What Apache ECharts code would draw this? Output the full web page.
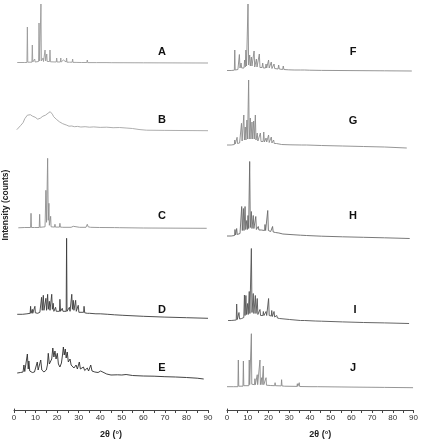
<!DOCTYPE html>
<html>
<head>
<meta charset="utf-8">
<script src="https://cdn.jsdelivr.net/npm/echarts@6/dist/echarts.min.js"></script>
<style>
  html, body { margin: 0; padding: 0; background: #fff; }
  #main { width: 421px; height: 440px; }
</style>
</head>
<body>
<div id="main"></div>
<script>
// XRD patterns, [2theta, intensity] (arbitrary counts)
var patternA = [
  [1.5,0.5],[5,0.5],[6.0,0.5],[6.2,36],[6.4,0.8],[8.3,0.8],[8.5,18],[8.7,1],[9.4,1],[9.6,4],[9.8,1],
  [11.4,1.5],[11.6,40],[11.9,2],[12.3,2],[12.5,59],[12.7,2],[13.3,1.5],[13.5,5],[13.7,1.5],[14.2,2],[14.4,13],[14.7,2],
  [15.0,2],[15.2,9],[15.4,1.5],[16.5,1.5],[16.7,13],[16.9,1.2],[17.3,1.2],[17.5,3],[17.7,1],[19.6,1],[19.8,5],[20,1],
  [21.5,1],[21.7,5],[21.9,1],[22.7,1],[22.9,3],[23.1,1],[24.2,1],[24.4,5],[24.6,0.8],[25.3,0.8],[25.5,2],[25.7,0.8],
  [27,0.8],[27.2,4],[27.4,0.6],[28.8,0.6],[29,1.2],[29.2,0.5],[31.2,0.5],[31.4,2],[31.6,0.5],[33.8,0.5],[34,3],[34.2,0.4],
  [38.2,0.4],[38.4,2],[38.6,0.4],[42.7,0.4],[42.9,1.5],[43.1,0.3],[45.1,0.3],[45.3,1],[45.5,0.3],[60,0.2],[90,0]
];
var patternB = [
  [1.3,1],[2.2,3],[3,5],[3.6,4.5],[4.2,8],[5,12],[5.6,14],[6.2,15.5],[6.6,17],[7.1,15.5],[7.6,16],[8,15],[8.6,14.5],
  [9.2,13],[9.8,13.5],[10.4,12],[11,11.5],[11.6,11],[12.2,12.5],[12.8,13],[13.4,14.5],[14,14],[14.6,15.5],[15.2,17],
  [15.8,17.5],[16.3,19.5],[16.8,19],[17.3,17],[17.8,16.5],[18.4,14],[19,13],[19.6,11.5],[20.3,10],[21,9],[21.8,7.5],
  [22.6,7],[23.5,5.5],[24.5,5.5],[25.5,4.5],[26.8,4.7],[28,4],[29.5,4.3],[31,3.7],[33,4],[35,3.5],[37,3.8],[40,3.3],
  [43,3.5],[46,3],[49,3.2],[52,2.7],[55,2.2],[58,1.2],[61.5,0.5],[70,0.3],[90,0]
];
var patternC = [
  [2,0.5],[5,0.8],[7.7,0.8],[7.9,15],[8.1,0.8],[9.5,0.8],[9.7,1.5],[9.9,0.8],[11.7,0.8],[11.9,14],[12.1,1],
  [14.4,1.5],[14.8,38],[15.1,6],[15.4,8],[15.6,70],[15.9,8],[16.2,25],[16.4,3],[16.8,2],[17.0,12],[17.2,1.5],
  [18.8,1.2],[19.0,4],[19.2,1.2],[21.1,1.2],[21.3,5],[21.5,1.2],[22.6,1],[22.8,2.5],[23,1],[26.5,1],[26.7,2],[26.9,1],
  [27.3,1],[27.5,2],[27.7,1],[30.4,1],[30.6,2],[30.8,1],[33.4,1],[33.6,3],[34,4],[34.4,1.5],[35.1,1.5],[35.3,3],[35.5,1],
  [39.7,0.8],[39.9,1.5],[40.1,0.8],[46.7,0.7],[46.9,1.5],[47.1,0.7],[49,0.6],[49.2,1.2],[49.4,0.5],[60,0.3],[89.4,0]
];
var patternD = [
  [1.5,4],[4,4],[6,4.5],[7.5,5],[7.7,12],[7.9,5],[8.3,5],[8.5,9],[8.7,5],[9.5,5],[9.7,12],[9.9,5.5],[11,5],[12,6],
  [12.6,6],[12.8,21],[13.1,8],[13.4,7],[13.6,23],[13.9,8],[14.6,8],[14.8,20],[15.1,8],[15.4,9],[15.6,24],[15.9,9],
  [16.2,8],[16.4,17],[16.7,8],[17.3,8],[17.5,24],[17.8,9],[18,8],[18.2,15],[18.5,7],[19.1,7],[19.3,11],[19.6,7],
  [20.5,6.5],[21.1,7],[21.3,19],[21.6,7],[22.2,7],[22.4,10],[22.7,7],[24.2,7],[24.4,80],[24.6,7],[25.5,7],[25.7,11],
  [26,7],[26.6,8],[26.8,24],[27.1,9],[27.3,9],[27.5,18],[27.8,8],[28.4,8],[28.6,18],[28.9,7],[29.6,7],[29.8,13],
  [30.1,6],[31,6],[32.3,6],[32.5,12],[32.8,5.5],[34,5],[35.1,5],[35.3,7],[35.5,5],[38,4.5],[38.2,6],[38.4,4.5],
  [40,4.5],[40.2,5.5],[40.5,4],[43.5,4],[43.7,5],[44,3.5],[46.6,3.5],[46.8,5],[47,3.5],[50.5,3],[50.7,4],[51,2.5],
  [60,2],[70,1.2],[80,0.6],[90,0]
];
var patternE = [
  [1.5,6],[3,6.5],[4.2,7],[4.6,14],[5,7.5],[5.8,8],[6.2,25],[6.6,10],[6.9,18],[7.3,8],[8.5,6.5],[9.5,7],[10.4,8],
  [10.8,17],[11.2,9],[11.8,9],[12.4,19],[12.9,9],[13.9,7],[15,9],[15.5,14],[15.9,25.7],[16.4,15],[17,14],[17.5,20],
  [18,31],[18.5,22],[19,28],[19.5,20],[20.1,25.7],[20.6,15],[21.3,12],[22,16],[22.5,24],[22.9,32],[23.3,24],[23.8,30],
  [24.2,21],[24.7,27],[25.2,17],[26,20],[26.5,14],[27.2,16],[27.8,11],[28.8,14],[29.4,10],[30.3,17],[30.8,10],
  [31.5,9],[32.2,12],[32.8,8.5],[34,11],[34.6,8],[35.6,14],[36.2,8],[37.5,7],[39,6.5],[40.2,8],[41,6],[43,5],[45,4],
  [48,4.2],[50,4],[52,4.5],[55,3.5],[60,3],[65,2.8],[70,2.3],[75,2],[80,1.5],[85,0.8],[88,0]
];
var patternF = [
  [0,0.5],[2,0.5],[3.5,0.8],[3.7,21],[3.9,1],[5.2,1.5],[5.5,1.5],[5.9,16.5],[6.2,3],[6.5,3],[6.7,8],[7,3],[8.1,3],
  [8.4,11],[8.7,4],[8.8,4],[9.0,21],[9.3,5],[9.8,5],[10,67],[10.3,6],[10.6,6],[10.8,16],[11.1,5],[11.4,5],[11.6,14],
  [11.9,5],[12.6,5],[12.9,20],[13.2,4],[13.7,4],[14,12],[14.3,4],[15.1,4],[15.4,17],[15.7,3.5],[16.7,3.5],[17,8],
  [17.3,3],[18.3,3],[18.6,7],[18.9,3],[19.5,3],[19.8,11],[20.1,3],[20.8,3],[21.1,9],[21.4,2.5],[22.1,2.5],[22.4,7],
  [22.7,2.5],[24.3,2],[24.6,6],[24.9,2],[26.5,1.5],[26.8,5],[27.1,1.5],[29.2,1.2],[29.4,2.5],[29.6,1],[32,1],[32.3,2],
  [32.6,1],[35,1],[35.3,1.8],[35.6,1],[37,1],[37.3,1.8],[37.6,0.8],[39.2,0.8],[39.4,2],[39.7,0.8],[45,0.6],[60,0.4],
  [75,0.2],[88,0]
];
var patternG = [
  [0,3],[2,3],[3.5,3.5],[3.7,8],[3.9,4],[4.6,4],[4.8,10.7],[5.0,4.5],[6.0,5],[6.7,6],[6.9,24.7],[7.2,7],[7.8,7],
  [8.0,33],[8.3,8],[8.5,8],[8.7,21],[9,8],[9.3,8],[9.5,28],[9.8,9],[10.1,9],[10.3,68],[10.6,9],[10.9,9],[11.1,30],
  [11.4,9],[11.7,9],[11.9,26],[12.2,9],[12.5,9],[12.7,27],[13,9],[13.3,9],[13.5,33],[13.8,8],[14.2,8],[14.4,15],
  [14.7,7],[15.6,7],[15.9,15],[16.2,6.5],[17.2,6.5],[17.5,16],[17.8,6],[18.4,6],[18.6,10],[18.9,6],[19.6,6],[19.8,13],
  [20.1,5.5],[20.9,5.5],[21.1,11],[21.4,5],[22,5],[22.2,8],[22.5,4.5],[23.6,4.5],[23.8,6],[24.1,4],[26,3.5],[26.2,5],
  [26.4,3.5],[30,3.2],[35.5,3],[35.7,4.5],[36,3],[37.8,3],[38,4],[38.2,2.8],[45,2.5],[55,2],[65,1.5],[75,1],[85.6,0]
];
var patternH = [
  [0,2.5],[2,2.5],[3.6,3],[3.8,9],[4.1,3.5],[4.4,3.5],[4.6,10],[4.9,4],[6.2,5],[6.8,6],[7.0,32],[7.3,8],[7.6,8],
  [7.8,30],[8.1,8],[8.4,8],[8.6,32],[8.9,9],[9.2,9],[9.4,18],[9.7,9],[9.8,9],[10,23],[10.3,10],[10.6,10],[10.8,77],
  [11.1,11],[11.4,11],[11.6,27],[11.9,10],[12.3,10],[12.5,23],[12.8,10],[13.5,10],[13.7,22],[14,9],[14.7,9],[14.9,12],
  [15.2,8.5],[16.3,8.5],[16.5,10],[16.8,8],[17.9,8],[18.1,14],[18.4,8],[19.2,8],[19.4,28],[19.7,8],[20.3,7.5],[20.5,10],
  [20.8,7],[21.5,7],[21.7,12],[22,6.5],[23.1,6],[23.3,8],[23.6,5.5],[24.7,5.5],[24.9,7],[25.2,5],[26.6,4.5],[26.8,6],
  [27.1,4.5],[30,4],[35,3.3],[37.8,3],[38,4],[38.3,2.8],[45,2.3],[55,1.7],[65,1.2],[75,0.7],[87,0]
];
var patternI = [
  [0.5,3],[2,3],[4.4,3.5],[4.6,19.5],[4.9,4],[5.5,4],[5.7,11],[6,4.5],[7,5],[8.0,6],[8.3,28.5],[8.6,8],[8.8,8],
  [9.0,28],[9.3,9],[9.6,9],[9.8,20],[10.1,9],[10.4,9],[10.6,32],[10.9,10],[11.4,10],[11.6,75],[11.9,11],[12.3,11],
  [12.5,30],[12.8,10],[13.3,10],[13.5,28],[13.8,10],[14.2,10],[14.4,25],[14.7,9],[15.5,9],[15.7,14],[16,8],[17.1,8],
  [17.3,12],[17.6,8],[18.4,8],[18.6,12],[18.9,8],[19.6,8],[19.8,25],[20.1,8],[21.1,7.5],[21.3,13],[21.6,7],[22.2,7],
  [22.4,12],[22.7,6.5],[23.5,6],[23.7,8],[24,5.5],[25,5],[25.2,6.5],[25.5,4.5],[29.8,4],[30,5],[30.3,3.5],[35,3],
  [37,3],[37.2,4],[37.4,2.8],[42,2.5],[42.2,3.5],[42.4,2.4],[45,2.3],[45.2,3.3],[45.4,2.2],[55,1.6],[65,1],[75,0.6],
  [86.7,0]
];
var patternJ = [
  [0,1],[3,1],[5.2,1],[5.4,27.7],[5.6,1.5],[7.6,1.5],[7.8,26.7],[8,2],[10.4,2],[10.6,27.7],[10.8,3],[11.4,3],
  [11.6,54],[11.8,3.5],[13.1,3],[13.3,9],[13.5,3],[14.2,3],[14.4,13],[14.6,3],[15.5,3],[15.7,27.7],[15.9,3],[16.3,3],
  [16.5,10],[16.7,3],[17.1,3],[17.3,21.7],[17.5,3],[18.4,2.5],[18.6,10],[18.8,2.5],[20.6,2.2],[20.8,4],[21,2],
  [22.7,2],[22.9,5],[23.1,2],[25.8,1.8],[26,8],[26.2,1.8],[26.9,1.8],[27.1,3],[27.3,1.5],[33.3,1.3],[33.5,4],
  [33.7,1.3],[34.2,1.3],[34.4,5],[34.6,1.2],[40,1],[43,1],[43.2,2],[43.4,1],[60,0.6],[75,0.3],[88.6,0]
];

var labels = ['A', 'B', 'C', 'D', 'E', 'F', 'G', 'H', 'I', 'J'];
var patterns = [patternA, patternB, patternC, patternD, patternE,
                patternF, patternG, patternH, patternI, patternJ];

// layout of each stacked trace: column, baseline pixel, panel height, line colour
var layout = [
  { col: 0, base: 63,    h: 60, color: '#9a9a9a', lx: 162, ly: 52 },
  { col: 0, base: 130.7, h: 25, color: '#a5a5a5', lx: 162, ly: 120 },
  { col: 0, base: 228.3, h: 72, color: '#8e8e8e', lx: 162, ly: 216 },
  { col: 0, base: 318.3, h: 82, color: '#3c3c3c', lx: 162, ly: 310 },
  { col: 0, base: 379,   h: 35, color: '#2e2e2e', lx: 162, ly: 368 },
  { col: 1, base: 71,    h: 68, color: '#8a8a8a', lx: 353, ly: 52 },
  { col: 1, base: 148,   h: 70, color: '#8a8a8a', lx: 353, ly: 121 },
  { col: 1, base: 238.5, h: 78, color: '#6a6a6a', lx: 353, ly: 216 },
  { col: 1, base: 323.5, h: 78, color: '#555555', lx: 355, ly: 310 },
  { col: 1, base: 387.7, h: 56, color: '#8a8a8a', lx: 353, ly: 368 }
];
var columns = [{ left: 14, width: 194 }, { left: 227, width: 189 }];

var font = '"Liberation Sans", Arial, sans-serif';
var chart = echarts.init(document.getElementById('main'));

var grid = [], xAxis = [], yAxis = [], series = [], graphic = [];

patterns.forEach(function (data, i) {
  var L = layout[i], c = columns[L.col];
  grid.push({ left: c.left, width: c.width, top: L.base - L.h, height: L.h });
  xAxis.push({ type: 'value', gridIndex: i, min: 0, max: 90, show: false });
  yAxis.push({ type: 'value', gridIndex: i, min: 0, max: L.h, show: false });
  series.push({
    type: 'line', name: labels[i], xAxisIndex: i, yAxisIndex: i,
    data: data, showSymbol: false, silent: true, clip: false,
    lineStyle: { width: 0.9, color: L.color }
  });
  graphic.push({
    type: 'text', x: L.lx, y: L.ly,
    style: { text: labels[i], font: 'bold 11px ' + font, fill: '#111',
             textAlign: 'center', textVerticalAlign: 'middle' }
  });
});

// the two 2θ axes at the bottom
columns.forEach(function (c, k) {
  var gi = grid.length;
  grid.push({ left: c.left, width: c.width, top: 409, height: 4 });
  xAxis.push({
    type: 'value', gridIndex: gi, min: 0, max: 90, interval: 10,
    name: '2θ (°)', nameLocation: 'middle', nameGap: 20,
    nameTextStyle: { fontFamily: font, fontSize: 9, fontWeight: 'bold', color: '#222' },
    axisLine: { lineStyle: { color: '#444', width: 1 } },
    axisTick: { length: 3, lineStyle: { color: '#444' } },
    minorTick: { show: true, splitNumber: 2, length: 3, lineStyle: { color: '#444' } },
    axisLabel: { fontFamily: font, fontSize: 8, color: '#333', margin: 4 },
    splitLine: { show: false }
  });
  yAxis.push({
    type: 'value', gridIndex: gi, min: 0, max: 1,
    axisLine: { show: true, lineStyle: { color: '#444', width: 1 } },
    axisTick: { show: false }, axisLabel: { show: false }, splitLine: { show: false }
  });
});

graphic.push({
  type: 'text', x: 6, y: 205, rotation: Math.PI / 2,
  style: { text: 'Intensity (counts)', font: 'bold 8.5px ' + font, fill: '#222',
           textAlign: 'center', textVerticalAlign: 'middle' }
});

chart.setOption({
  backgroundColor: '#fff',
  animation: false,
  grid: grid,
  xAxis: xAxis,
  yAxis: yAxis,
  series: series,
  graphic: graphic
});
</script>
</body>
</html>
